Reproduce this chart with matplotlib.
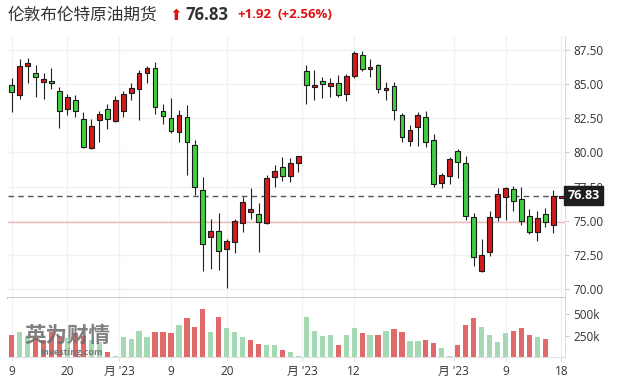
import numpy as np
import matplotlib.pyplot as plt
from matplotlib.transforms import blended_transform_factory

plt.rcParams['font.family'] = ['Open Sans', 'Noto Sans CJK SC', 'DejaVu Sans']

# Daily OHLC
opens = [84.94, 84.18, 86.35, 85.79, 85.18, 85.20, 84.52, 83.15, 83.81, 82.42,
         80.30, 82.35, 83.15, 82.27, 83.01, 84.33, 84.62, 85.79, 86.16, 83.01,
         82.49, 81.47, 82.57, 80.52, 77.22, 73.82, 74.22, 72.95, 73.41, 74.85,
         75.66, 75.46, 74.85, 78.22, 78.90, 78.24, 79.20, 85.94, 84.76, 85.20,
         84.84, 85.06, 84.25, 85.57, 87.11, 86.08, 86.38, 84.55, 84.84, 82.71,
         80.81, 81.83, 82.57, 80.88, 77.73, 78.24, 80.08, 79.20, 75.24, 71.29,
         72.68, 75.24, 76.71, 77.29, 76.56, 75.31, 74.14, 75.46, 74.66, 76.66]
highs = [85.42, 86.82, 86.89, 86.40, 85.79, 86.16, 84.81, 84.28, 84.18, 82.93,
         82.42, 83.03, 83.52, 84.13, 84.52, 85.06, 86.03, 86.33, 86.65, 83.52,
         83.96, 83.08, 83.45, 80.88, 78.20, 75.09, 75.53, 73.63, 75.09, 76.76,
         77.37, 76.27, 78.34, 79.07, 79.64, 79.56, 79.71, 86.38, 86.01, 85.50,
         85.42, 85.67, 85.72, 87.40, 87.40, 86.82, 86.45, 85.13, 85.13, 82.86,
         81.98, 82.93, 83.01, 81.32, 78.46, 79.64, 80.22, 79.71, 75.53, 73.63,
         75.68, 77.37, 77.44, 77.51, 77.44, 75.83, 75.68, 75.90, 77.22, 76.80]
lows = [82.98, 83.89, 85.06, 84.08, 83.89, 84.62, 81.76, 82.71, 82.57, 80.30,
        80.22, 80.74, 81.69, 82.20, 82.57, 83.81, 82.35, 85.06, 82.81, 82.05,
        81.39, 80.74, 78.32, 76.85, 71.29, 71.48, 71.36, 70.04, 72.60, 74.19,
        75.09, 72.68, 74.75, 77.49, 77.93, 77.85, 78.54, 83.52, 83.81, 83.96,
        84.03, 84.03, 83.74, 85.42, 85.94, 85.50, 84.33, 83.81, 82.35, 80.74,
        80.44, 80.44, 80.37, 77.44, 77.37, 77.66, 78.15, 75.02, 71.65, 71.21,
        72.38, 74.95, 75.02, 75.68, 74.66, 73.99, 73.48, 74.51, 74.07, 76.66]
closes = [84.45, 86.33, 86.52, 85.55, 85.35, 85.06, 83.01, 84.03, 83.01, 80.42,
          81.91, 82.79, 82.42, 83.81, 84.25, 84.69, 85.79, 86.16, 83.30, 82.64,
          81.54, 82.71, 80.74, 77.46, 73.26, 74.22, 72.75, 73.48, 74.95, 76.34,
          75.83, 74.92, 78.10, 78.61, 78.24, 79.20, 79.71, 84.91, 84.93, 84.98,
          85.06, 84.18, 85.57, 87.26, 86.08, 86.23, 84.66, 84.70, 83.08, 81.10,
          81.61, 82.71, 80.74, 77.66, 78.32, 79.49, 79.27, 75.31, 72.31, 72.46,
          75.24, 76.93, 77.37, 76.41, 74.95, 74.14, 75.17, 74.88, 76.78, 76.80]
volumes = [262, 294, 230, 220, 200, 290, 250, 220, 280, 240,
           200, 180, 56, 12, 234, 210, 302, 234, 294, 294,
           282, 369, 460, 353, 567, 294, 472, 341, 294, 234,
           198, 155, 139, 139, 79, 56, 12, 472, 306, 246,
           258, 139, 258, 341, 282, 258, 258, 306, 329, 294,
           186, 186, 198, 163, 103, 12, 139, 377, 460, 353,
           258, 175, 282, 306, 341, 258, 234, 210, 0, 0]
volumes = [v * 1000 for v in volumes]

last_price = 76.83
prev_close = 74.91
date_pos = [0, 7, 13.5, 20, 27, 36.5, 43, 55.5, 62, 69]
date_labels = ["9", "20", "月 '23", "9", "20", "月 '23", "12", "月 '23", "9", "18"]
price_ticks = [70.0, 72.5, 75.0, 77.5, 80.0, 82.5, 85.0, 87.5]

o = np.array(opens)
c = np.array(closes)
x = np.arange(len(o))

RED = '#d41a1a'
GREEN = '#3fcf3f'
VRED = '#e06a6a'
VGREEN = '#a5d9b3'
GRID = '#f1f1f1'
TXT = '#333333'

fig = plt.figure(figsize=(6.17, 3.80), dpi=100)
W, H = 617, 380
ax = fig.add_axes([8 / W, 1 - 298 / H, 557 / W, 262 / H])
axv = fig.add_axes([8 / W, 1 - 357 / H, 557 / W, 59 / H], sharex=ax)

# candles
up = c > o
ax.vlines(x, lows, highs, color='#222222', lw=0.8, zorder=3)
ax.bar(x, np.maximum(np.abs(c - o), 0.12), bottom=np.minimum(o, c), width=0.6,
       color=np.where(up, RED, GREEN), edgecolor='#1a1a1a', linewidth=0.8, zorder=4)

ax.axhline(prev_close, color='#f2b8b8', lw=1, zorder=2)
ax.axhline(last_price, color='#555555', lw=1, ls=(0, (4, 3)), zorder=2)

ax.set_xlim(-0.46, 69.47)
ax.set_ylim(69.33, 88.53)
ax.set_yticks(price_ticks)
ax.set_yticklabels(['%.2f' % t for t in price_ticks])
ax.yaxis.tick_right()
ax.set_xticks(date_pos)
ax.tick_params(axis='x', length=0, labelbottom=False)
ax.tick_params(axis='y', length=3, color='#cccccc', labelsize=8.5,
               labelcolor=TXT, pad=3)
ax.grid(True, color=GRID, lw=1)
for s in ['left', 'top']:
    ax.spines[s].set_visible(False)
ax.spines['right'].set_color('#dddddd')
ax.spines['bottom'].set_color('#c8c8c8')
ax.spines['bottom'].set_linewidth(1.4)

tr = blended_transform_factory(ax.transAxes, ax.transData)
ax.text(1.004, last_price, '%.2f' % last_price, transform=tr, ha='left',
        va='center', color='white', fontsize=9, fontweight='bold', zorder=10,
        bbox=dict(boxstyle='square,pad=0.25', fc='#1e1e1e', ec='#1e1e1e'),
        clip_on=False)

# volume
prev = np.concatenate([[o[0]], c[:-1]])
vup = c >= prev
axv.bar(x, volumes, width=0.66, color=np.where(vup, VGREEN, VRED), zorder=3)
axv.set_ylim(0, 690000)
axv.set_yticks([250000, 500000])
axv.set_yticklabels(['250k', '500k'])
axv.yaxis.tick_right()
axv.set_xticks(date_pos)
axv.set_xticklabels(date_labels)
axv.tick_params(axis='x', length=3, color='#dddddd', labelsize=8.5,
                labelcolor=TXT, pad=3)
axv.tick_params(axis='y', length=3, color='#cccccc', labelsize=8.5,
                labelcolor=TXT, pad=3)
axv.grid(True, axis='x', color=GRID, lw=1)
axv.spines['left'].set_visible(False)
axv.spines['top'].set_visible(False)
axv.spines['right'].set_color('#dddddd')
axv.spines['bottom'].set_color('#e0e0e0')

# watermark
axv.text(0.03, 0.36, '英为财情', transform=axv.transAxes, fontsize=15.5,
         fontweight='bold', color='#6a6a6a', alpha=0.85, va='center',
         family=['Noto Sans CJK SC'], zorder=5)
axv.text(0.115, 0.08, 'Investing.com', transform=axv.transAxes, fontsize=6.5,
         fontweight='bold', color='#6a6a6a', alpha=0.85, va='center',
         ha='center', zorder=5)

# header
fig.text(8 / W, 1 - 15 / H, '伦敦布伦特原油期货', fontsize=12, color=TXT,
         va='center', family=['Noto Sans CJK SC'])
fig.text(176 / W, 1 - 15 / H, '⬆', fontsize=11, color='#e01010', va='center',
         ha='center', family=['DejaVu Sans'])
fig.text(185 / W, 1 - 15 / H, '%.2f' % last_price, fontsize=12, color=TXT,
         fontweight='bold', va='center')
fig.text(237 / W, 1 - 15 / H, '+1.92', fontsize=9.5, color='#e01010',
         fontweight='bold', va='center')
fig.text(277 / W, 1 - 15 / H, '(+2.56%)', fontsize=9.5, color='#e01010',
         fontweight='bold', va='center')

fig.savefig('out.png', dpi=100)
